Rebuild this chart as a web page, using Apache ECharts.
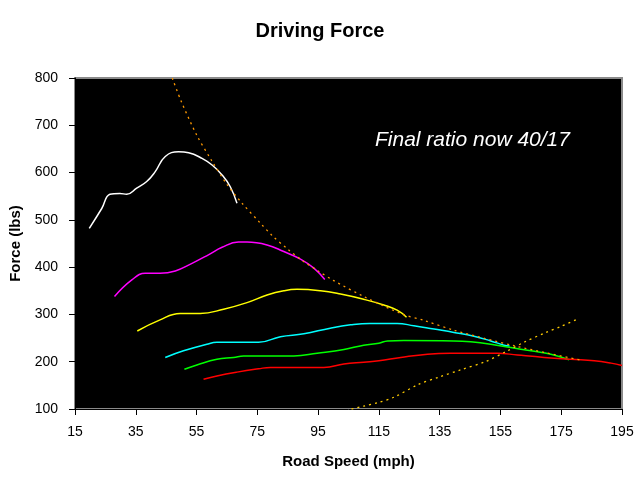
<!DOCTYPE html>
<html>
<head>
<meta charset="utf-8">
<script src="https://cdn.jsdelivr.net/npm/echarts@6/dist/echarts.min.js"></script>
<style>
    html, body { margin: 0; padding: 0; background: #ffffff; }
    #chart { width: 640px; height: 478px; }
</style>
</head>
<body>
<div id="chart"></div>
<script>
    // gear curves: road speed (mph) / driving force (lbs)
    var gear1Speed = [19.7, 23.8, 26.5, 29.8, 32, 35.3, 38.6, 41.4, 44.7, 49.1, 52.4, 56.8, 60.1, 63.4, 66.1, 68.3];
    var gear1Force = [482, 524, 554, 556, 554, 567, 581, 602, 634, 644, 642, 630, 616, 595, 570, 535];

    var gear2Speed = [28, 33.7, 38.1, 43, 48, 53.5, 58.9, 63.4, 68.8, 71.6, 78.2, 83.7, 89.2, 93.6, 97.2];
    var gear2Force = [338, 373, 387, 387, 392, 408, 426, 442, 453, 453, 447, 433, 417, 398, 374];

    var gear3Speed = [35.5, 42.8, 49.6, 56.2, 63.9, 71.6, 78.2, 83.7, 88.1, 95.8, 102.4, 110, 116.6, 121, 124.1];
    var gear3Force = [265, 288, 302, 302, 311, 325, 341, 350, 353, 350, 343, 332, 320, 309, 294];

    var gear4Speed = [44.7, 50.7, 58.4, 61.7, 75.4, 82.6, 90.3, 99, 105.7, 112, 121, 126.5, 133.1, 139.7, 146.3, 151.8, 156.2, 158];
    var gear4Force = [209, 223, 237, 241, 241, 253, 259, 271, 278, 281, 281, 276, 269, 262, 254, 244, 235, 233];

    var gear5Speed = [51, 55.1, 61.7, 67.2, 70.5, 87, 94.7, 103.5, 110, 115, 117.8, 123.2, 139.7, 145.2, 151.8, 158.4, 165, 171.6, 177.6];
    var gear5Force = [184, 193, 205, 209, 212, 212, 218, 226, 235, 239, 244, 245, 244, 242, 237, 230, 223, 216, 204];

    var gear6Speed = [57.3, 61.7, 68.3, 75.4, 79.3, 96.9, 103.5, 110, 115, 122.2, 131, 138.6, 154, 160.6, 169.4, 178.2, 185.9, 191.4, 195];
    var gear6Force = [163, 170, 178, 185, 188, 188, 195, 199, 202, 209, 216, 218, 218, 214, 209, 205, 202, 197, 192];

    // max power envelope (dashed orange)
    var powerSpeed = [47, 50, 55, 60, 65, 70, 76, 80, 85, 90, 95, 100, 110, 123, 130, 140, 150, 160, 170, 181];
    var powerForce = [800, 750, 680, 625, 575, 535, 493, 466, 438, 413, 392, 372, 338, 300, 287, 266, 249, 233, 219, 204];

    // drag (dashed yellow)
    var dragSpeed = [106, 110, 115, 120, 128, 135, 142, 150, 157, 163, 170, 175, 180];
    var dragForce = [100, 106, 114, 125, 152, 168, 183, 200, 222, 242, 262, 275, 289];

    var xTicks = { min: 15, max: 195, step: 20 };
    var yTicks = { min: 100, max: 800, step: 100 };

    function pairs(xs, ys) {
        return xs.map(function (x, i) { return [x, ys[i]]; });
    }

    function gearLine(xs, ys, color) {
        return {
            type: 'line',
            data: pairs(xs, ys),
            smooth: 0.45,
            symbol: 'none',
            lineStyle: { color: color, width: 1.5 },
            z: 3
        };
    }

    function dashLine(xs, ys, color) {
        return {
            type: 'line',
            data: pairs(xs, ys),
            smooth: 0.3,
            symbol: 'none',
            lineStyle: { color: color, width: 1.3, type: [2, 4] },
            z: 4
        };
    }

    var chart = echarts.init(document.getElementById('chart'));
    var options = {
        animation: false,
        backgroundColor: '#ffffff',
        textStyle: { fontFamily: 'Liberation Sans, Arial, sans-serif' },
        title: {
            text: 'Driving Force',
            left: 'center',
            top: 16,
            textStyle: { fontSize: 20, fontWeight: 'bold', color: '#000', fontFamily: 'Liberation Sans, Arial, sans-serif' }
        },
        grid: {
            left: 75, right: 18, top: 78, bottom: 69,
            show: true,
            backgroundColor: '#000000',
            borderColor: '#8a8a8a',
            borderWidth: 2
        },
        xAxis: {
            type: 'value',
            min: xTicks.min, max: xTicks.max, interval: xTicks.step,
            name: 'Road Speed (mph)',
            nameLocation: 'middle',
            nameGap: 45,
            nameTextStyle: { fontSize: 15, fontWeight: 'bold', color: '#000' },
            axisLine: { show: true, lineStyle: { color: '#000', width: 1 } },
            axisTick: { show: true, length: 6, lineStyle: { color: '#000' } },
            axisLabel: { fontSize: 14, color: '#000', margin: 16 },
            splitLine: { show: false }
        },
        yAxis: {
            type: 'value',
            min: yTicks.min, max: yTicks.max, interval: yTicks.step,
            name: 'Force (lbs)',
            nameLocation: 'middle',
            nameGap: 50,
            nameTextStyle: { fontSize: 15, fontWeight: 'bold', color: '#000' },
            axisLine: { show: true, lineStyle: { color: '#000', width: 1 } },
            axisTick: { show: true, length: 6, lineStyle: { color: '#000' } },
            axisLabel: { fontSize: 14, color: '#000', margin: 17 },
            splitLine: { show: false }
        },
        graphic: [{
            type: 'text',
            left: 375,
            top: 130,
            style: {
                text: 'Final ratio now 40/17',
                fill: '#ffffff',
                font: 'italic 21px "Liberation Sans", Arial, sans-serif'
            },
            z: 10
        }],
        series: [
            gearLine(gear1Speed, gear1Force, '#ffffff'),
            gearLine(gear2Speed, gear2Force, '#ff00ff'),
            gearLine(gear3Speed, gear3Force, '#ffff00'),
            gearLine(gear4Speed, gear4Force, '#00ffff'),
            gearLine(gear5Speed, gear5Force, '#00ff00'),
            gearLine(gear6Speed, gear6Force, '#ff0000'),
            dashLine(powerSpeed, powerForce, '#ff9900'),
            dashLine(dragSpeed, dragForce, '#ffcc00')
        ]
    };
    chart.setOption(options);
</script>
</body>
</html>
